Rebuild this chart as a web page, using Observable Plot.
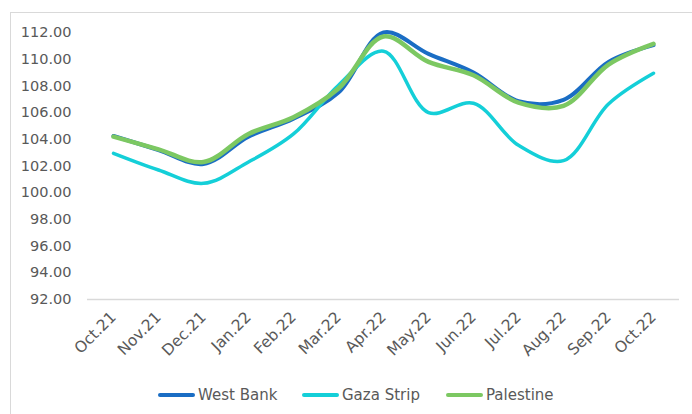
<!DOCTYPE html>
<html>
<head>
<meta charset="utf-8">
<script src="https://cdn.jsdelivr.net/npm/d3@7"></script>
<script src="https://cdn.jsdelivr.net/npm/@observablehq/plot@0.6"></script>
<style>
  html, body { margin: 0; padding: 0; background: #fff; overflow: hidden; }
  body { width: 692px; height: 414px; position: relative; font-family: "DejaVu Sans", sans-serif; }
  #frame { position: absolute; left: 10px; top: 12px; width: 700px; height: 420px; border: 1px solid #d9d9d9; box-sizing: border-box; }
  #chart { position: absolute; left: 0; top: 0; }
  #legend { position: absolute; left: 0; top: 385px; width: 692px; height: 20px; font-size: 15px; color: #595959; }
  .item { position: absolute; top: 0; display: flex; align-items: center; height: 20px; }
  .sw { width: 37px; height: 4px; border-radius: 2px; margin-right: 3px; }
</style>
</head>
<body>
<div id="frame"></div>
<div id="chart"></div>
<div id="legend"></div>
<script>
const months = ["Oct.21","Nov.21","Dec.21","Jan.22","Feb.22","Mar.22","Apr.22","May.22","Jun.22","Jul.22","Aug.22","Sep.22","Oct.22"];
const westBank  = [104.25, 103.2, 102.15, 104.2, 105.55, 107.5, 112.0, 110.4, 109.0, 106.85, 106.95, 109.8, 111.05];
const gazaStrip = [102.95, 101.7, 100.7, 102.3, 104.4, 108.05, 110.6, 106.0, 106.7, 103.55, 102.4, 106.65, 108.95];
const palestine = [104.2, 103.25, 102.3, 104.4, 105.65, 107.8, 111.7, 109.8, 108.8, 106.75, 106.5, 109.6, 111.15];
const yTicks = [92, 94, 96, 98, 100, 102, 104, 106, 108, 110, 112];
const seriesNames = ["West Bank", "Gaza Strip", "Palestine"];
const seriesColors = ["#1a6dc4", "#14cfd8", "#7cc862"];
const seriesWidths = [4, 3.5, 4.5];
const seriesValues = [westBank, gazaStrip, palestine];

const rows = [];
seriesNames.forEach((name, s) => months.forEach((m, i) => rows.push({series: name, month: m, value: seriesValues[s][i]})));

const lines = seriesNames.map((name, s) => Plot.line(rows.filter(d => d.series === name), {
  x: "month", y: "value", stroke: seriesColors[s], strokeWidth: seriesWidths[s], curve: "catmull-rom"
}));

const chart = Plot.plot({
  width: 692,
  height: 370,
  marginLeft: 87,
  marginRight: 13,
  marginTop: 32,
  marginBottom: 71,
  style: { fontFamily: "DejaVu Sans, sans-serif", fontSize: "14.5px", color: "#595959", background: "transparent", overflow: "visible" },
  x: { type: "point", domain: months, padding: 0.5 },
  y: { domain: [92, 112] },
  marks: [
    Plot.ruleY([92], { stroke: "#d9d9d9", strokeWidth: 1.5 }),
    Plot.axisY({ ticks: yTicks, tickFormat: d => d.toFixed(2), tickSize: 0, tickPadding: 16, label: null, fill: "#595959", fontSize: 14.5 }),
    Plot.axisX({ tickSize: 0, tickRotate: -45, tickPadding: 15, label: null, fill: "#595959", fontSize: 15.5 }),
    ...lines
  ]
});
document.getElementById("chart").appendChild(chart);

const legendX = [158, 302, 446];
const legend = document.getElementById("legend");
seriesNames.forEach((name, s) => {
  const it = document.createElement("div");
  it.className = "item";
  it.style.left = legendX[s] + "px";
  it.innerHTML = `<div class="sw" style="background:${seriesColors[s]}"></div><span>${name}</span>`;
  legend.appendChild(it);
});
</script>
</body>
</html>
